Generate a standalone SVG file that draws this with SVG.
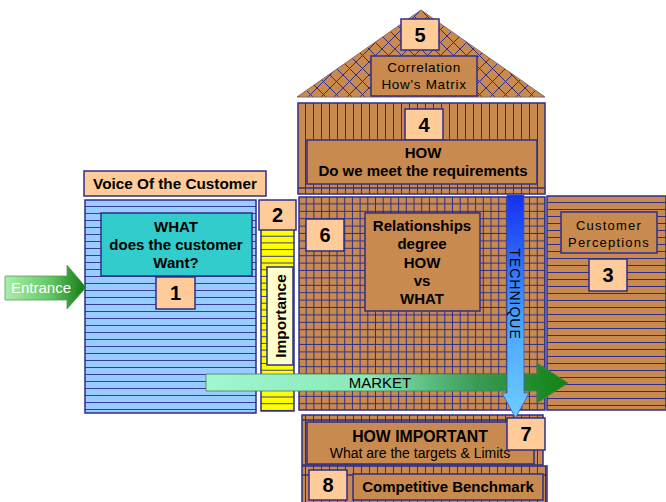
<svg xmlns="http://www.w3.org/2000/svg" width="666" height="502" viewBox="0 0 666 502">
<defs>
<style>
.nav{stroke:#2E2E8A;stroke-width:1.3;}
.box{stroke:#2E2E8A;stroke-width:1.5;}
.peach{fill:#FFCC99;}
.brown{fill:#C88A4E;}
.t{font-family:"Liberation Sans",Arial,sans-serif;fill:#000;text-anchor:middle;}
.b{font-weight:bold;}
.num{font-family:"Liberation Sans",Arial,sans-serif;font-weight:bold;font-size:20px;text-anchor:middle;fill:#000;}
</style>
<pattern id="pBlue" patternUnits="userSpaceOnUse" x="0" y="200" width="10" height="7">
<rect width="10" height="7" fill="#99CCFF"/><line x1="0" y1="6.5" x2="10" y2="6.5" stroke="#3A3A9A" stroke-width="1"/>
</pattern>
<pattern id="pYel" patternUnits="userSpaceOnUse" x="0" y="230" width="10" height="6.7">
<rect width="10" height="6.7" fill="#FFFF00"/><line x1="0" y1="6.2" x2="10" y2="6.2" stroke="#3A3A9A" stroke-width="1"/>
</pattern>
<pattern id="pH" patternUnits="userSpaceOnUse" x="0" y="196" width="10" height="7">
<rect width="10" height="7" fill="#C88A4E"/><line x1="0" y1="6.5" x2="10" y2="6.5" stroke="#2E2E8A" stroke-width="1"/>
</pattern>
<pattern id="pV" patternUnits="userSpaceOnUse" x="298" y="0" width="8" height="10">
<rect width="8" height="10" fill="#C88A4E"/><line x1="7.5" y1="0" x2="7.5" y2="10" stroke="#2E2E8A" stroke-width="1"/>
</pattern>
<pattern id="pG" patternUnits="userSpaceOnUse" x="299" y="197" width="7.7" height="7.4">
<rect width="7.7" height="7.4" fill="#C88A4E"/><line x1="7.2" y1="0" x2="7.2" y2="7.4" stroke="#2E2E8A" stroke-width="1"/><line x1="0" y1="6.9" x2="7.7" y2="6.9" stroke="#2E2E8A" stroke-width="1"/>
</pattern>
<pattern id="pX" patternUnits="userSpaceOnUse" x="421" y="10" width="13" height="13">
<rect width="13" height="13" fill="#C88A4E"/><path d="M0,0 L13,13 M13,0 L0,13" stroke="#2E2E8A" stroke-width="1"/>
</pattern>
<linearGradient id="gEnt" x1="0" y1="0" x2="1" y2="0">
<stop offset="0" stop-color="#A8F0A8"/><stop offset="0.55" stop-color="#66C866"/><stop offset="1" stop-color="#127A12"/>
</linearGradient>
<linearGradient id="gMkt" gradientUnits="userSpaceOnUse" x1="206" y1="0" x2="568" y2="0">
<stop offset="0" stop-color="#A0F8D0"/><stop offset="0.45" stop-color="#88E8B8"/><stop offset="0.75" stop-color="#3A9A55"/><stop offset="1" stop-color="#128212"/>
</linearGradient>
<linearGradient id="gTec" gradientUnits="userSpaceOnUse" x1="0" y1="195" x2="0" y2="418">
<stop offset="0" stop-color="#1530F0"/><stop offset="0.6" stop-color="#4AA8FF"/><stop offset="1" stop-color="#70CCFF"/>
</linearGradient>
</defs>

<g id="node5-roof">
<path d="M297,97 L421,10 L545,97 Z" fill="url(#pX)" stroke="#8A6A6A" stroke-width="1"/>
<rect x="401" y="19" width="38" height="31" class="peach box"/>
<text x="420" y="42" class="num">5</text>
<rect x="371" y="56" width="106" height="40" class="brown box"/>
<text x="424" y="72" class="t" font-size="13.5" letter-spacing="0.7">Correlation</text>
<text x="424" y="89" class="t" font-size="13.5" letter-spacing="0.7">How's Matrix</text>
</g>

<g id="node4-how">
<rect x="298" y="103" width="247" height="91" fill="url(#pV)" class="box"/>
<line x1="298" y1="188" x2="545" y2="188" class="nav"/>
<rect x="405" y="109" width="38" height="31" class="peach box"/>
<text x="424" y="132" class="num">4</text>
<rect x="307" y="140" width="230" height="44" class="brown box"/>
<text x="423" y="158" class="t b" font-size="15">HOW</text>
<text x="423" y="176" class="t b" font-size="15">Do we meet the requirements</text>
</g>

<g id="node-voice">
<rect x="84" y="171" width="182" height="25" class="peach box"/>
<text x="175" y="189" class="t b" font-size="15.3">Voice Of the Customer</text>
</g>

<g id="node1-what">
<rect x="85" y="200" width="171" height="213" fill="url(#pBlue)" class="box"/>
<rect x="101" y="213" width="151" height="63" fill="#33CCCC" class="box"/>
<text x="176" y="232" class="t b" font-size="15">WHAT</text>
<text x="176" y="250" class="t b" font-size="15">does the customer</text>
<text x="176" y="268" class="t b" font-size="15">Want?</text>
<rect x="156" y="277" width="39" height="32" class="peach box"/>
<text x="175.5" y="300" class="num">1</text>
</g>

<g id="node2-importance">
<rect x="261" y="229" width="33" height="182" fill="url(#pYel)" class="box"/>
<rect x="259" y="200" width="37" height="30" class="peach box"/>
<text x="277.5" y="222" class="num">2</text>
<rect x="267" y="267" width="26" height="98" fill="#FFFFCC" class="box"/>
<text transform="translate(286,316) rotate(-90)" class="t b" font-size="15.5">Importance</text>
</g>

<g id="node6-matrix">
<rect x="299" y="197" width="246" height="213" fill="url(#pG)" class="box"/>
<rect x="306" y="219" width="38" height="32" class="peach box"/>
<text x="325" y="242" class="num">6</text>
<rect x="365" y="213" width="115" height="98" class="brown box"/>
<text x="422" y="231" class="t b" font-size="15">Relationships</text>
<text x="422" y="249" class="t b" font-size="15">degree</text>
<text x="422" y="268" class="t b" font-size="15">HOW</text>
<text x="422" y="286" class="t b" font-size="15">vs</text>
<text x="422" y="304" class="t b" font-size="15">WHAT</text>
</g>

<g id="node3-perceptions">
<rect x="547" y="196" width="119" height="214" fill="url(#pH)" class="box"/>
<rect x="561" y="212" width="96" height="41" class="brown box"/>
<text x="609" y="230" class="t" font-size="13" letter-spacing="1.2">Customer</text>
<text x="609" y="247" class="t" font-size="13" letter-spacing="1.2">Perceptions</text>
<rect x="589" y="259" width="38" height="32" class="peach box"/>
<text x="608" y="282" class="num">3</text>
</g>

<g id="node7-important">
<rect x="302" y="415" width="241" height="50" fill="url(#pV)" class="box"/>
<line x1="302" y1="420" x2="543" y2="420" class="nav"/>
<rect x="307" y="422" width="227" height="42" class="brown box"/>
<text x="420" y="442" class="t b" font-size="15.8">HOW IMPORTANT</text>
<text x="420" y="458" class="t" font-size="14">What are the targets &amp; Limits</text>
<rect x="507" y="418" width="38" height="32" class="peach box"/>
<text x="526" y="441" class="num">7</text>
</g>

<g id="node8-benchmark">
<rect x="302" y="466" width="245" height="40" fill="url(#pV)" class="box"/>
<line x1="302" y1="475" x2="547" y2="475" class="nav"/>
<rect x="309" y="470" width="38" height="30" class="peach box"/>
<text x="328" y="492" class="num">8</text>
<rect x="353" y="474" width="190" height="26" class="brown box"/>
<text x="448" y="492" class="t b" font-size="15">Competitive Benchmark</text>
</g>

<g id="connectors">
<g id="entrance">
<path d="M5,276 L67,276 L67,265 L86,287.5 L67,309 L67,300 L5,300 Z" fill="url(#gEnt)" stroke="#5A9A5A" stroke-width="0.8"/>
<text x="41" y="293" font-family="Liberation Sans,Arial,sans-serif" font-size="15" fill="#FFFFFF" text-anchor="middle">Entrance</text>
</g>
<g id="market">
<path d="M206,374 L537,374 L537,363 L568,383 L537,403 L537,391 L206,391 Z" fill="url(#gMkt)" stroke="#4A7A5A" stroke-width="0.8"/>
<text x="380" y="388" font-family="Liberation Sans,Arial,sans-serif" font-size="15" fill="#000" text-anchor="middle">MARKET</text>
</g>
<g id="technique">
<path d="M507,195 L524,195 L524,393 L529,393 L515.5,418 L502,393 L507,393 Z" fill="url(#gTec)" stroke="#3A5AB0" stroke-width="0.8"/>
<text transform="translate(510,294) rotate(90)" font-family="Liberation Sans,Arial,sans-serif" font-size="14" letter-spacing="1" fill="#000" text-anchor="middle">TECHNIQUE</text>
</g>
</g>
</svg>
